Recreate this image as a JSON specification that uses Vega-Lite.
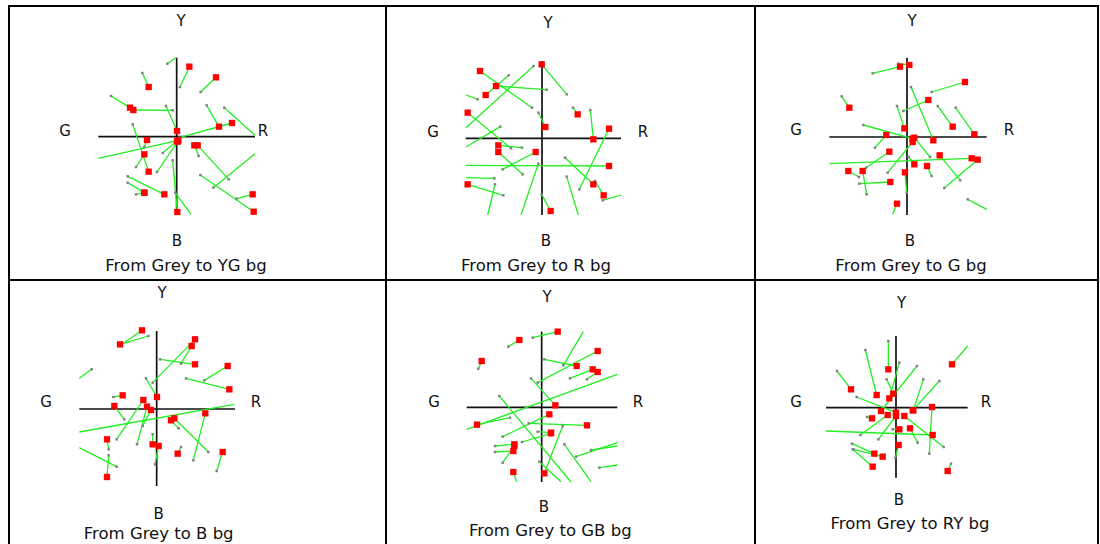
{
"$schema":"https://vega.github.io/schema/vega-lite/v6.json",
"background":"white",
"bounds":"flush",
"columns":3,
"spacing":0,
"padding":{"left":8,"top":5,"right":0,"bottom":0},
"config":{"view":{"stroke":"#000","strokeWidth":2},"concat":{"spacing":0}},
"data":{"values":[
{"p":1,"k":"c","x":-235,"y":0,"x2":235,"y2":0},{"p":1,"k":"c","x":0,"y":-235,"x2":0,"y2":237},
{"p":1,"k":"s","x":-28,"y":219,"x2":-3,"y2":237,"q":0},
{"p":1,"k":"s","x":10,"y":149,"x2":38,"y2":210},
{"p":1,"k":"s","x":-103,"y":191,"x2":-84,"y2":149},
{"p":1,"k":"s","x":72,"y":134,"x2":118,"y2":178},
{"p":1,"k":"s","x":-197,"y":122,"x2":-140,"y2":87},
{"p":1,"k":"s","x":-12,"y":79,"x2":-130,"y2":80},
{"p":1,"k":"s","x":-32,"y":92,"x2":1,"y2":17},
{"p":1,"k":"s","x":90,"y":94,"x2":127,"y2":30},
{"p":1,"k":"s","x":143,"y":87,"x2":235,"y2":4,"q":0},
{"p":1,"k":"s","x":8,"y":-3,"x2":166,"y2":41},
{"p":1,"k":"s","x":-132,"y":37,"x2":-84,"y2":-105},
{"p":1,"k":"s","x":-122,"y":-91,"x2":-97,"y2":-53},
{"p":1,"k":"s","x":-235,"y":-65,"x2":5,"y2":-11,"d":0},
{"p":1,"k":"s","x":-97,"y":-31,"x2":-89,"y2":-10},
{"p":1,"k":"s","x":-42,"y":-49,"x2":1,"y2":-13},
{"p":1,"k":"s","x":-59,"y":-106,"x2":3,"y2":-15},
{"p":1,"k":"s","x":66,"y":-58,"x2":53,"y2":-26},
{"p":1,"k":"s","x":156,"y":-128,"x2":63,"y2":-26},
{"p":1,"k":"s","x":110,"y":-153,"x2":235,"y2":-51,"q":0},
{"p":1,"k":"s","x":71,"y":-115,"x2":231,"y2":-225},
{"p":1,"k":"s","x":180,"y":-186,"x2":228,"y2":-173},
{"p":1,"k":"s","x":-147,"y":-119,"x2":-37,"y2":-173},
{"p":1,"k":"s","x":-147,"y":-138,"x2":-97,"y2":-168},
{"p":1,"k":"s","x":-122,"y":-173,"x2":-97,"y2":-168},
{"p":1,"k":"s","x":-12,"y":-71,"x2":2,"y2":-226},
{"p":1,"k":"s","x":-4,"y":-168,"x2":43,"y2":-233,"q":0},
{"p":1,"k":"t","x":13,"y":347,"t":"Y"},{"p":1,"k":"t","x":-335,"y":17,"t":"G"},{"p":1,"k":"t","x":259,"y":17,"t":"R"},{"p":1,"k":"t","x":1,"y":-313,"t":"B"},
{"p":1,"k":"h","x":28,"y":-388,"t":"From Grey to YG bg"},

{"p":2,"k":"c","x":-229,"y":0,"x2":237,"y2":0},{"p":2,"k":"c","x":0,"y":-230,"x2":0,"y2":232},
{"p":2,"k":"s","x":-30,"y":92,"x2":-186,"y2":202},
{"p":2,"k":"s","x":14,"y":146,"x2":-138,"y2":157},
{"p":2,"k":"s","x":-100,"y":189,"x2":-169,"y2":130},
{"p":2,"k":"s","x":-25,"y":217,"x2":-228,"y2":32,"q":0},
{"p":2,"k":"s","x":74,"y":132,"x2":-1,"y2":222},
{"p":2,"k":"s","x":-193,"y":117,"x2":-228,"y2":130,"q":0},
{"p":2,"k":"s","x":-93,"y":-30,"x2":-223,"y2":77},
{"p":2,"k":"s","x":-58,"y":-108,"x2":-131,"y2":-41},
{"p":2,"k":"s","x":-11,"y":77,"x2":10,"y2":34},
{"p":2,"k":"s","x":93,"y":92,"x2":107,"y2":72},
{"p":2,"k":"s","x":145,"y":85,"x2":154,"y2":-3},
{"p":2,"k":"s","x":112,"y":-153,"x2":201,"y2":29},
{"p":2,"k":"s","x":-125,"y":35,"x2":-228,"y2":-26,"q":0},
{"p":2,"k":"s","x":-118,"y":-93,"x2":-19,"y2":-41},
{"p":2,"k":"s","x":-60,"y":-28,"x2":-131,"y2":-21},
{"p":2,"k":"s","x":-228,"y":-81,"x2":201,"y2":-83,"d":0},
{"p":2,"k":"s","x":-11,"y":-76,"x2":-63,"y2":-230,"q":0},
{"p":2,"k":"s","x":69,"y":-58,"x2":154,"y2":-138},
{"p":2,"k":"s","x":159,"y":-128,"x2":185,"y2":-171},
{"p":2,"k":"s","x":74,"y":-115,"x2":109,"y2":-230,"q":0},
{"p":2,"k":"s","x":-143,"y":-120,"x2":-228,"y2":-118,"q":0},
{"p":2,"k":"s","x":-116,"y":-171,"x2":-223,"y2":-138},
{"p":2,"k":"s","x":-141,"y":-138,"x2":-163,"y2":-230,"q":0},
{"p":2,"k":"s","x":-1,"y":-168,"x2":26,"y2":-218},
{"p":2,"k":"s","x":182,"y":-186,"x2":237,"y2":-170,"q":0},
{"p":2,"k":"t","x":18,"y":346,"t":"Y"},{"p":2,"k":"t","x":-327,"y":19,"t":"G"},{"p":2,"k":"t","x":303,"y":19,"t":"R"},{"p":2,"k":"t","x":12,"y":-308,"t":"B"},
{"p":2,"k":"h","x":-18,"y":-383,"t":"From Grey to R bg"},

{"p":3,"k":"c","x":-233,"y":0,"x2":239,"y2":0},{"p":3,"k":"c","x":0,"y":-234,"x2":0,"y2":238},
{"p":3,"k":"s","x":-103,"y":191,"x2":-21,"y2":211},
{"p":3,"k":"s","x":-26,"y":220,"x2":7,"y2":216},
{"p":3,"k":"s","x":74,"y":135,"x2":174,"y2":165},
{"p":3,"k":"s","x":-196,"y":122,"x2":-173,"y2":88},
{"p":3,"k":"s","x":-11,"y":78,"x2":64,"y2":111},
{"p":3,"k":"s","x":12,"y":150,"x2":79,"y2":-10},
{"p":3,"k":"s","x":-30,"y":93,"x2":-8,"y2":26},
{"p":3,"k":"s","x":92,"y":93,"x2":137,"y2":31},
{"p":3,"k":"s","x":146,"y":88,"x2":202,"y2":8},
{"p":3,"k":"s","x":-131,"y":36,"x2":17,"y2":-5},
{"p":3,"k":"s","x":-96,"y":-32,"x2":-62,"y2":6},
{"p":3,"k":"s","x":69,"y":-60,"x2":22,"y2":-2},
{"p":3,"k":"s","x":-123,"y":-92,"x2":-53,"y2":-44},
{"p":3,"k":"s","x":-58,"y":-107,"x2":17,"y2":-15},
{"p":3,"k":"s","x":-233,"y":-80,"x2":194,"y2":-64,"d":0},
{"p":3,"k":"s","x":5,"y":-60,"x2":22,"y2":-82},
{"p":3,"k":"s","x":160,"y":-130,"x2":98,"y2":-55},
{"p":3,"k":"s","x":112,"y":-153,"x2":212,"y2":-68},
{"p":3,"k":"s","x":74,"y":-117,"x2":60,"y2":-87},
{"p":3,"k":"s","x":-144,"y":-120,"x2":-176,"y2":-102},
{"p":3,"k":"s","x":-121,"y":-172,"x2":-133,"y2":-102},
{"p":3,"k":"s","x":-143,"y":-140,"x2":-50,"y2":-135},
{"p":3,"k":"s","x":-1,"y":-167,"x2":-6,"y2":-106},
{"p":3,"k":"s","x":-43,"y":-232,"x2":-30,"y2":-200,"d":0},
{"p":3,"k":"s","x":182,"y":-187,"x2":239,"y2":-217,"q":0},
{"p":3,"k":"t","x":15,"y":348,"t":"Y"},{"p":3,"k":"t","x":-333,"y":21,"t":"G"},{"p":3,"k":"t","x":306,"y":21,"t":"R"},{"p":3,"k":"t","x":9,"y":-312,"t":"B"},
{"p":3,"k":"h","x":12,"y":-387,"t":"From Grey to G bg"},

{"p":4,"k":"c","x":-232,"y":0,"x2":235,"y2":0},{"p":4,"k":"c","x":0,"y":-231,"x2":0,"y2":234},
{"p":4,"k":"s","x":-25,"y":219,"x2":-110,"y2":194},
{"p":4,"k":"s","x":-107,"y":192,"x2":-44,"y2":236},
{"p":4,"k":"s","x":-12,"y":79,"x2":115,"y2":209},
{"p":4,"k":"s","x":73,"y":136,"x2":105,"y2":189},
{"p":4,"k":"s","x":10,"y":149,"x2":115,"y2":134},
{"p":4,"k":"s","x":143,"y":86,"x2":213,"y2":129},
{"p":4,"k":"s","x":88,"y":92,"x2":218,"y2":59},
{"p":4,"k":"s","x":-195,"y":119,"x2":-232,"y2":92,"q":0},
{"p":4,"k":"s","x":-32,"y":92,"x2":1,"y2":36},
{"p":4,"k":"s","x":-130,"y":36,"x2":-102,"y2":41},
{"p":4,"k":"s","x":-97,"y":-31,"x2":-127,"y2":9},
{"p":4,"k":"s","x":-120,"y":-91,"x2":-40,"y2":27},
{"p":4,"k":"s","x":-59,"y":-106,"x2":-29,"y2":7},
{"p":4,"k":"s","x":-42,"y":-51,"x2":-17,"y2":-3},
{"p":4,"k":"s","x":-232,"y":-69,"x2":233,"y2":14,"d":0,"q":0},
{"p":4,"k":"s","x":66,"y":-58,"x2":43,"y2":-34},
{"p":4,"k":"s","x":155,"y":-129,"x2":53,"y2":-28},
{"p":4,"k":"s","x":110,"y":-154,"x2":146,"y2":-13},
{"p":4,"k":"s","x":-12,"y":-76,"x2":-12,"y2":-106},
{"p":4,"k":"s","x":-5,"y":-166,"x2":6,"y2":-111},
{"p":4,"k":"s","x":73,"y":-114,"x2":63,"y2":-134},
{"p":4,"k":"s","x":180,"y":-186,"x2":198,"y2":-129},
{"p":4,"k":"s","x":-144,"y":-121,"x2":-149,"y2":-91},
{"p":4,"k":"s","x":-144,"y":-139,"x2":-149,"y2":-204},
{"p":4,"k":"s","x":-120,"y":-173,"x2":-232,"y2":-116,"q":0},
{"p":4,"k":"t","x":16,"y":348,"t":"Y"},{"p":4,"k":"t","x":-332,"y":21,"t":"G"},{"p":4,"k":"t","x":298,"y":21,"t":"R"},{"p":4,"k":"t","x":6,"y":-315,"t":"B"},
{"p":4,"k":"h","x":6,"y":-375,"t":"From Grey to B bg"},

{"p":5,"k":"c","x":-225,"y":0,"x2":227,"y2":0},{"p":5,"k":"c","x":0,"y":-224,"x2":0,"y2":227},
{"p":5,"k":"s","x":-100,"y":182,"x2":-67,"y2":202},
{"p":5,"k":"s","x":-27,"y":209,"x2":48,"y2":227},
{"p":5,"k":"s","x":-190,"y":116,"x2":-180,"y2":139},
{"p":5,"k":"s","x":8,"y":144,"x2":105,"y2":124},
{"p":5,"k":"s","x":65,"y":126,"x2":125,"y2":227,"q":0},
{"p":5,"k":"s","x":-12,"y":74,"x2":168,"y2":169},
{"p":5,"k":"s","x":85,"y":87,"x2":153,"y2":114},
{"p":5,"k":"s","x":136,"y":84,"x2":168,"y2":106},
{"p":5,"k":"s","x":-32,"y":87,"x2":41,"y2":6},
{"p":5,"k":"s","x":-225,"y":-66,"x2":227,"y2":99,"d":0,"q":0},
{"p":5,"k":"s","x":-95,"y":-31,"x2":-194,"y2":-52},
{"p":5,"k":"s","x":-127,"y":34,"x2":88,"y2":-224,"q":0},
{"p":5,"k":"s","x":-117,"y":-88,"x2":23,"y2":-21},
{"p":5,"k":"s","x":-39,"y":-48,"x2":136,"y2":-54},
{"p":5,"k":"s","x":-12,"y":-73,"x2":28,"y2":-76},
{"p":5,"k":"s","x":-59,"y":-104,"x2":28,"y2":-78},
{"p":5,"k":"s","x":63,"y":-56,"x2":8,"y2":-198},
{"p":5,"k":"s","x":-140,"y":-116,"x2":-82,"y2":-111},
{"p":5,"k":"s","x":-140,"y":-134,"x2":-85,"y2":-131},
{"p":5,"k":"s","x":-117,"y":-166,"x2":-82,"y2":-116},
{"p":5,"k":"s","x":-75,"y":-223,"x2":-85,"y2":-194,"d":0},
{"p":5,"k":"s","x":68,"y":-111,"x2":148,"y2":-223,"q":0},
{"p":5,"k":"s","x":103,"y":-148,"x2":227,"y2":-106,"q":0},
{"p":5,"k":"s","x":148,"y":-128,"x2":227,"y2":-116,"q":0},
{"p":5,"k":"s","x":173,"y":-181,"x2":227,"y2":-173,"q":0},
{"p":5,"k":"s","x":-7,"y":-163,"x2":58,"y2":-223,"q":0},
{"p":5,"k":"t","x":16,"y":331,"t":"Y"},{"p":5,"k":"t","x":-323,"y":16,"t":"G"},{"p":5,"k":"t","x":289,"y":16,"t":"R"},{"p":5,"k":"t","x":7,"y":-299,"t":"B"},
{"p":5,"k":"h","x":26,"y":-371,"t":"From Grey to GB bg"},

{"p":6,"k":"c","x":-210,"y":0,"x2":215,"y2":0},{"p":6,"k":"c","x":0,"y":-210,"x2":0,"y2":215},
{"p":6,"k":"s","x":-23,"y":200,"x2":-23,"y2":115},
{"p":6,"k":"s","x":215,"y":185,"x2":168,"y2":130,"d":0},
{"p":6,"k":"s","x":-92,"y":173,"x2":-58,"y2":38},
{"p":6,"k":"s","x":-177,"y":110,"x2":-135,"y2":55},
{"p":6,"k":"s","x":10,"y":135,"x2":-20,"y2":28},
{"p":6,"k":"s","x":63,"y":125,"x2":-45,"y2":-10},
{"p":6,"k":"s","x":-28,"y":85,"x2":-8,"y2":42},
{"p":6,"k":"s","x":82,"y":85,"x2":52,"y2":-8},
{"p":6,"k":"s","x":130,"y":80,"x2":50,"y2":-8},
{"p":6,"k":"s","x":-118,"y":32,"x2":0,"y2":-15},
{"p":6,"k":"s","x":100,"y":-138,"x2":108,"y2":2},
{"p":6,"k":"s","x":-210,"y":-70,"x2":110,"y2":-82,"d":0},
{"p":6,"k":"s","x":143,"y":-118,"x2":25,"y2":-25},
{"p":6,"k":"s","x":-87,"y":-28,"x2":-72,"y2":-32},
{"p":6,"k":"s","x":-107,"y":-82,"x2":-25,"y2":-22},
{"p":6,"k":"s","x":-53,"y":-95,"x2":0,"y2":-25},
{"p":6,"k":"s","x":65,"y":-105,"x2":42,"y2":-62},
{"p":6,"k":"s","x":-10,"y":-65,"x2":10,"y2":-65},
{"p":6,"k":"s","x":-2,"y":-150,"x2":8,"y2":-112},
{"p":6,"k":"s","x":-132,"y":-108,"x2":-65,"y2":-138},
{"p":6,"k":"s","x":-127,"y":-125,"x2":-40,"y2":-147},
{"p":6,"k":"s","x":-130,"y":-125,"x2":-70,"y2":-177},
{"p":6,"k":"s","x":165,"y":-168,"x2":155,"y2":-190},
{"p":6,"k":"t","x":17,"y":315,"t":"Y"},{"p":6,"k":"t","x":-300,"y":17,"t":"G"},{"p":6,"k":"t","x":270,"y":17,"t":"R"},{"p":6,"k":"t","x":9,"y":-277,"t":"B"},
{"p":6,"k":"h","x":42,"y":-349,"t":"From Grey to RY bg"}
]},
"concat":[
{"width":377,"height":274,"transform":[{"filter":"datum.p==1"}],
 "encoding":{"x":{"field":"x","type":"quantitative","scale":{"domain":[-503,628],"nice":false,"zero":false},"axis":null},"y":{"field":"y","type":"quantitative","scale":{"domain":[-430,392],"nice":false,"zero":false},"axis":null}},
 "layer":[
  {"transform":[{"filter":"datum.k=='c'"}],"mark":{"type":"rule","color":"#111","strokeWidth":1.7},"encoding":{"x2":{"field":"x2"},"y2":{"field":"y2"}}},
  {"transform":[{"filter":"datum.k=='s'"}],"mark":{"type":"rule","color":"#22ee22","strokeWidth":1.3},"encoding":{"x2":{"field":"x2"},"y2":{"field":"y2"}}},
  {"transform":[{"filter":"datum.k=='s' && datum.d!==0"}],"mark":{"type":"square","color":"#808080","size":6,"opacity":1},"encoding":{}},
  {"transform":[{"filter":"datum.k=='s' && datum.q!==0"}],"mark":{"type":"square","color":"#ff0000","size":40,"opacity":1},"encoding":{"x":{"field":"x2","type":"quantitative","scale":{"domain":[-503,628],"nice":false,"zero":false},"axis":null},"y":{"field":"y2","type":"quantitative","scale":{"domain":[-430,392],"nice":false,"zero":false},"axis":null}}},
  {"transform":[{"filter":"datum.k=='t'"}],"mark":{"type":"text","font":"DejaVu Sans","fontSize":15,"color":"#111","baseline":"middle","align":"center"},"encoding":{"text":{"field":"t"}}},
  {"transform":[{"filter":"datum.k=='h'"}],"mark":{"type":"text","font":"DejaVu Sans","fontSize":16.5,"color":"#111","baseline":"middle","align":"center"},"encoding":{"text":{"field":"t"}}}
 ]},
{"width":369,"height":274,"transform":[{"filter":"datum.p==2"}],
 "encoding":{"x":{"field":"x","type":"quantitative","scale":{"domain":[-468,639],"nice":false,"zero":false},"axis":null},"y":{"field":"y","type":"quantitative","scale":{"domain":[-425,397],"nice":false,"zero":false},"axis":null}},
 "layer":[
  {"transform":[{"filter":"datum.k=='c'"}],"mark":{"type":"rule","color":"#111","strokeWidth":1.7},"encoding":{"x2":{"field":"x2"},"y2":{"field":"y2"}}},
  {"transform":[{"filter":"datum.k=='s'"}],"mark":{"type":"rule","color":"#22ee22","strokeWidth":1.3},"encoding":{"x2":{"field":"x2"},"y2":{"field":"y2"}}},
  {"transform":[{"filter":"datum.k=='s' && datum.d!==0"}],"mark":{"type":"square","color":"#808080","size":6,"opacity":1},"encoding":{}},
  {"transform":[{"filter":"datum.k=='s' && datum.q!==0"}],"mark":{"type":"square","color":"#ff0000","size":40,"opacity":1},"encoding":{"x":{"field":"x2","type":"quantitative","scale":{"domain":[-468,639],"nice":false,"zero":false},"axis":null},"y":{"field":"y2","type":"quantitative","scale":{"domain":[-425,397],"nice":false,"zero":false},"axis":null}}},
  {"transform":[{"filter":"datum.k=='t'"}],"mark":{"type":"text","font":"DejaVu Sans","fontSize":15,"color":"#111","baseline":"middle","align":"center"},"encoding":{"text":{"field":"t"}}},
  {"transform":[{"filter":"datum.k=='h'"}],"mark":{"type":"text","font":"DejaVu Sans","fontSize":16.5,"color":"#111","baseline":"middle","align":"center"},"encoding":{"text":{"field":"t"}}}
 ]},
{"width":343,"height":274,"transform":[{"filter":"datum.p==3"}],
 "encoding":{"x":{"field":"x","type":"quantitative","scale":{"domain":[-456,573],"nice":false,"zero":false},"axis":null},"y":{"field":"y","type":"quantitative","scale":{"domain":[-429,393],"nice":false,"zero":false},"axis":null}},
 "layer":[
  {"transform":[{"filter":"datum.k=='c'"}],"mark":{"type":"rule","color":"#111","strokeWidth":1.7},"encoding":{"x2":{"field":"x2"},"y2":{"field":"y2"}}},
  {"transform":[{"filter":"datum.k=='s'"}],"mark":{"type":"rule","color":"#22ee22","strokeWidth":1.3},"encoding":{"x2":{"field":"x2"},"y2":{"field":"y2"}}},
  {"transform":[{"filter":"datum.k=='s' && datum.d!==0"}],"mark":{"type":"square","color":"#808080","size":6,"opacity":1},"encoding":{}},
  {"transform":[{"filter":"datum.k=='s' && datum.q!==0"}],"mark":{"type":"square","color":"#ff0000","size":40,"opacity":1},"encoding":{"x":{"field":"x2","type":"quantitative","scale":{"domain":[-456,573],"nice":false,"zero":false},"axis":null},"y":{"field":"y2","type":"quantitative","scale":{"domain":[-429,393],"nice":false,"zero":false},"axis":null}}},
  {"transform":[{"filter":"datum.k=='t'"}],"mark":{"type":"text","font":"DejaVu Sans","fontSize":15,"color":"#111","baseline":"middle","align":"center"},"encoding":{"text":{"field":"t"}}},
  {"transform":[{"filter":"datum.k=='h'"}],"mark":{"type":"text","font":"DejaVu Sans","fontSize":16.5,"color":"#111","baseline":"middle","align":"center"},"encoding":{"text":{"field":"t"}}}
 ]},
{"width":377,"height":270,"transform":[{"filter":"datum.p==4"}],
 "encoding":{"x":{"field":"x","type":"quantitative","scale":{"domain":[-443,688],"nice":false,"zero":false},"axis":null},"y":{"field":"y","type":"quantitative","scale":{"domain":[-423,387],"nice":false,"zero":false},"axis":null}},
 "layer":[
  {"transform":[{"filter":"datum.k=='c'"}],"mark":{"type":"rule","color":"#111","strokeWidth":1.7},"encoding":{"x2":{"field":"x2"},"y2":{"field":"y2"}}},
  {"transform":[{"filter":"datum.k=='s'"}],"mark":{"type":"rule","color":"#22ee22","strokeWidth":1.3},"encoding":{"x2":{"field":"x2"},"y2":{"field":"y2"}}},
  {"transform":[{"filter":"datum.k=='s' && datum.d!==0"}],"mark":{"type":"square","color":"#808080","size":6,"opacity":1},"encoding":{}},
  {"transform":[{"filter":"datum.k=='s' && datum.q!==0"}],"mark":{"type":"square","color":"#ff0000","size":40,"opacity":1},"encoding":{"x":{"field":"x2","type":"quantitative","scale":{"domain":[-443,688],"nice":false,"zero":false},"axis":null},"y":{"field":"y2","type":"quantitative","scale":{"domain":[-423,387],"nice":false,"zero":false},"axis":null}}},
  {"transform":[{"filter":"datum.k=='t'"}],"mark":{"type":"text","font":"DejaVu Sans","fontSize":15,"color":"#111","baseline":"middle","align":"center"},"encoding":{"text":{"field":"t"}}},
  {"transform":[{"filter":"datum.k=='h'"}],"mark":{"type":"text","font":"DejaVu Sans","fontSize":16.5,"color":"#111","baseline":"middle","align":"center"},"encoding":{"text":{"field":"t"}}}
 ]},
{"width":369,"height":270,"transform":[{"filter":"datum.p==5"}],
 "encoding":{"x":{"field":"x","type":"quantitative","scale":{"domain":[-467,640],"nice":false,"zero":false},"axis":null},"y":{"field":"y","type":"quantitative","scale":{"domain":[-428,382],"nice":false,"zero":false},"axis":null}},
 "layer":[
  {"transform":[{"filter":"datum.k=='c'"}],"mark":{"type":"rule","color":"#111","strokeWidth":1.7},"encoding":{"x2":{"field":"x2"},"y2":{"field":"y2"}}},
  {"transform":[{"filter":"datum.k=='s'"}],"mark":{"type":"rule","color":"#22ee22","strokeWidth":1.3},"encoding":{"x2":{"field":"x2"},"y2":{"field":"y2"}}},
  {"transform":[{"filter":"datum.k=='s' && datum.d!==0"}],"mark":{"type":"square","color":"#808080","size":6,"opacity":1},"encoding":{}},
  {"transform":[{"filter":"datum.k=='s' && datum.q!==0"}],"mark":{"type":"square","color":"#ff0000","size":40,"opacity":1},"encoding":{"x":{"field":"x2","type":"quantitative","scale":{"domain":[-467,640],"nice":false,"zero":false},"axis":null},"y":{"field":"y2","type":"quantitative","scale":{"domain":[-428,382],"nice":false,"zero":false},"axis":null}}},
  {"transform":[{"filter":"datum.k=='t'"}],"mark":{"type":"text","font":"DejaVu Sans","fontSize":15,"color":"#111","baseline":"middle","align":"center"},"encoding":{"text":{"field":"t"}}},
  {"transform":[{"filter":"datum.k=='h'"}],"mark":{"type":"text","font":"DejaVu Sans","fontSize":16.5,"color":"#111","baseline":"middle","align":"center"},"encoding":{"text":{"field":"t"}}}
 ]},
{"width":343,"height":270,"transform":[{"filter":"datum.p==6"}],
 "encoding":{"x":{"field":"x","type":"quantitative","scale":{"domain":[-423,606],"nice":false,"zero":false},"axis":null},"y":{"field":"y","type":"quantitative","scale":{"domain":[-427,383],"nice":false,"zero":false},"axis":null}},
 "layer":[
  {"transform":[{"filter":"datum.k=='c'"}],"mark":{"type":"rule","color":"#111","strokeWidth":1.7},"encoding":{"x2":{"field":"x2"},"y2":{"field":"y2"}}},
  {"transform":[{"filter":"datum.k=='s'"}],"mark":{"type":"rule","color":"#22ee22","strokeWidth":1.3},"encoding":{"x2":{"field":"x2"},"y2":{"field":"y2"}}},
  {"transform":[{"filter":"datum.k=='s' && datum.d!==0"}],"mark":{"type":"square","color":"#808080","size":6,"opacity":1},"encoding":{}},
  {"transform":[{"filter":"datum.k=='s' && datum.q!==0"}],"mark":{"type":"square","color":"#ff0000","size":40,"opacity":1},"encoding":{"x":{"field":"x2","type":"quantitative","scale":{"domain":[-423,606],"nice":false,"zero":false},"axis":null},"y":{"field":"y2","type":"quantitative","scale":{"domain":[-427,383],"nice":false,"zero":false},"axis":null}}},
  {"transform":[{"filter":"datum.k=='t'"}],"mark":{"type":"text","font":"DejaVu Sans","fontSize":15,"color":"#111","baseline":"middle","align":"center"},"encoding":{"text":{"field":"t"}}},
  {"transform":[{"filter":"datum.k=='h'"}],"mark":{"type":"text","font":"DejaVu Sans","fontSize":16.5,"color":"#111","baseline":"middle","align":"center"},"encoding":{"text":{"field":"t"}}}
 ]}
]
}
